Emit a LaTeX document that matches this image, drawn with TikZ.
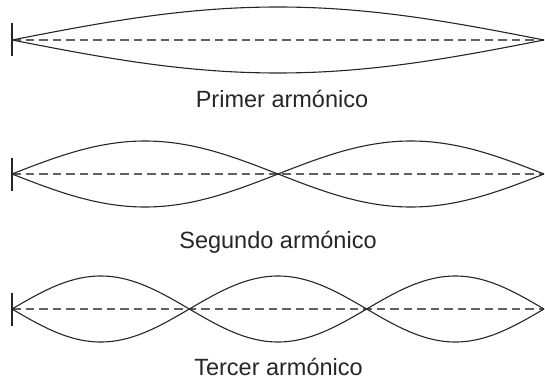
\documentclass[tikz,border=0pt]{standalone}
\usepackage{fontspec}
\setmainfont{Liberation Sans}
\begin{document}
\begin{tikzpicture}[x=1pt,y=1pt,
  wave/.style={line width=1.1pt, black!85},
  axisline/.style={line width=1.5pt, black!62, dash pattern=on 8.5pt off 5pt},
  endbar/.style={line width=1.1pt, black!85},
  caption/.style={font=\fontsize{23.5}{28}\selectfont, text=black!85, anchor=base, inner sep=0pt}]
\useasboundingbox (0,0) rectangle (545,381);
% Row 1
\coordinate (a1) at (12,341);
\coordinate (b1) at (544,341);
\draw[axisline] (a1) -- (b1);
\draw[endbar] ([yshift=16.5pt]a1) -- ([yshift=-16.5pt]a1);
\draw[wave] plot[domain=0:532, samples=120] ({12+\x}, {341+33*sin(\x/532*180)});
\draw[wave] plot[domain=0:532, samples=120] ({12+\x}, {341-33*sin(\x/532*180)});
\node[caption] (t1) at (282,274) {Primer armónico};
% Row 2
\coordinate (a2) at (12,207);
\coordinate (b2) at (544,207);
\draw[axisline] (a2) -- (b2);
\draw[endbar] ([yshift=16.5pt]a2) -- ([yshift=-16.5pt]a2);
\draw[wave] plot[domain=0:532, samples=160] ({12+\x}, {207+33*sin(\x/266*180)});
\draw[wave] plot[domain=0:532, samples=160] ({12+\x}, {207-33*sin(\x/266*180)});
\node[caption] (t2) at (278,133) {Segundo armónico};
% Row 3
\coordinate (a3) at (12,72);
\coordinate (b3) at (544,72);
\draw[axisline] (a3) -- (b3);
\draw[endbar] ([yshift=16.5pt]a3) -- ([yshift=-16.5pt]a3);
\draw[wave] plot[domain=0:532, samples=200] ({12+\x}, {72+33*sin(\x/177.333*180)});
\draw[wave] plot[domain=0:532, samples=200] ({12+\x}, {72-33*sin(\x/177.333*180)});
\node[caption] (t3) at (278.5,6) {Tercer armónico};
\end{tikzpicture}
\end{document}
